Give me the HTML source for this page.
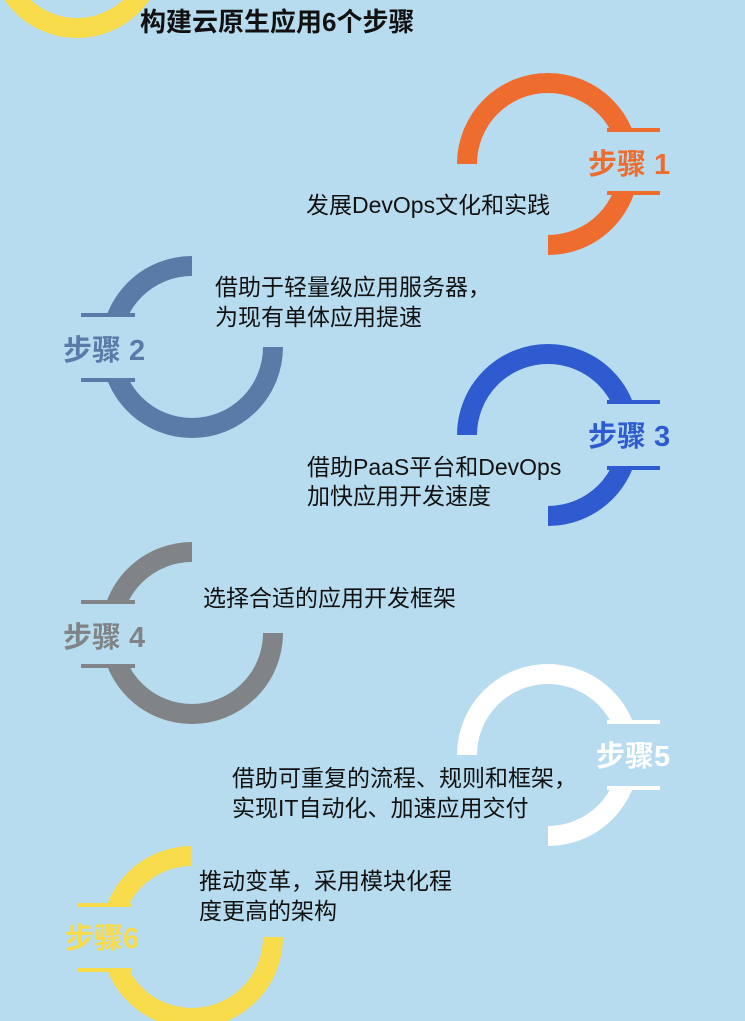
<!DOCTYPE html>
<html><head><meta charset="utf-8"><style>
html,body{margin:0;padding:0;background:#b8dcef;}
svg{display:block;font-family:"Liberation Sans","Noto Sans CJK SC",sans-serif;}
</style></head><body>
<svg width="745" height="1021" viewBox="0 0 745 1021" xmlns="http://www.w3.org/2000/svg">
<rect width="745" height="1021" fill="#b8dcef"/>
<defs>
<mask id="mR1" maskUnits="userSpaceOnUse" x="0" y="0" width="745" height="1021"><rect width="745" height="1021" fill="#fff"/><rect x="430" y="164" width="118" height="120" fill="#000"/><rect x="548" y="132" width="120" height="60" fill="#000"/></mask>
<mask id="mR3" maskUnits="userSpaceOnUse" x="0" y="0" width="745" height="1021"><rect width="745" height="1021" fill="#fff"/><rect x="430" y="435" width="118" height="120" fill="#000"/><rect x="548" y="403" width="120" height="63" fill="#000"/></mask>
<mask id="mR5" maskUnits="userSpaceOnUse" x="0" y="0" width="745" height="1021"><rect width="745" height="1021" fill="#fff"/><rect x="430" y="755" width="118" height="120" fill="#000"/><rect x="548" y="724" width="120" height="62" fill="#000"/></mask>
<mask id="mL2" maskUnits="userSpaceOnUse" x="0" y="0" width="745" height="1021"><rect width="745" height="1021" fill="#fff"/><rect x="192" y="230" width="120" height="117" fill="#000"/><rect x="70" y="317" width="122" height="61" fill="#000"/></mask>
<mask id="mL4" maskUnits="userSpaceOnUse" x="0" y="0" width="745" height="1021"><rect width="745" height="1021" fill="#fff"/><rect x="192" y="520" width="120" height="113" fill="#000"/><rect x="70" y="603" width="122" height="61" fill="#000"/></mask>
<mask id="mL6" maskUnits="userSpaceOnUse" x="0" y="0" width="745" height="1021"><rect width="745" height="1021" fill="#fff"/><rect x="192" y="830" width="120" height="107" fill="#000"/><rect x="70" y="907" width="122" height="61" fill="#000"/></mask>
</defs>

<circle cx="77" cy="-50" r="78" fill="none" stroke="#f8dc4c" stroke-width="20"/>
<text x="140" y="31" font-size="26" font-weight="bold" fill="#111">构建云原生应用6个步骤</text>

<circle cx="548" cy="164" r="81" fill="none" stroke="#ee6c2d" stroke-width="20" mask="url(#mR1)"/>
<rect x="607" y="128" width="53" height="4" fill="#ee6c2d"/>
<rect x="607" y="191" width="53" height="4" fill="#ee6c2d"/>
<text x="588" y="174" font-size="29" font-weight="bold" fill="#ee6c2d">步骤 1</text>
<text x="306" y="213" font-size="23" fill="#111">发展DevOps文化和实践</text>

<circle cx="192" cy="347" r="81" fill="none" stroke="#5a7aa8" stroke-width="20" mask="url(#mL2)"/>
<rect x="81" y="313" width="54" height="4" fill="#5a7aa8"/>
<rect x="81" y="378" width="54" height="4" fill="#5a7aa8"/>
<text x="63" y="360" font-size="29" font-weight="bold" fill="#5a7aa8">步骤 2</text>
<text x="215" y="295" font-size="23" fill="#111">借助于轻量级应用服务器，</text>
<text x="215" y="325" font-size="23" fill="#111">为现有单体应用提速</text>

<circle cx="548" cy="435" r="81" fill="none" stroke="#2f5bd0" stroke-width="20" mask="url(#mR3)"/>
<rect x="607" y="400" width="53" height="4" fill="#2f5bd0"/>
<rect x="607" y="466" width="53" height="4" fill="#2f5bd0"/>
<text x="588" y="446" font-size="29" font-weight="bold" fill="#2f5bd0">步骤 3</text>
<text x="307" y="475" font-size="23" fill="#111">借助PaaS平台和DevOps</text>
<text x="307" y="504" font-size="23" fill="#111">加快应用开发速度</text>

<circle cx="192" cy="633" r="81" fill="none" stroke="#818487" stroke-width="20" mask="url(#mL4)"/>
<rect x="81" y="600" width="54" height="4" fill="#818487"/>
<rect x="81" y="664" width="54" height="4" fill="#818487"/>
<text x="63" y="647" font-size="29" font-weight="bold" fill="#818487">步骤 4</text>
<text x="203" y="606" font-size="23" fill="#111">选择合适的应用开发框架</text>

<circle cx="548" cy="755" r="81" fill="none" stroke="#ffffff" stroke-width="20" mask="url(#mR5)"/>
<rect x="607" y="720" width="53" height="4" fill="#ffffff"/>
<rect x="607" y="786" width="53" height="4" fill="#ffffff"/>
<text x="596" y="766" font-size="29" font-weight="bold" fill="#ffffff">步骤5</text>
<text x="232" y="786" font-size="23" fill="#111">借助可重复的流程、规则和框架，</text>
<text x="232" y="816" font-size="23" fill="#111">实现IT自动化、加速应用交付</text>

<circle cx="192" cy="937" r="81" fill="none" stroke="#f8dc4c" stroke-width="20" mask="url(#mL6)"/>
<rect x="78" y="903" width="54" height="4" fill="#f8dc4c"/>
<rect x="78" y="968" width="54" height="4" fill="#f8dc4c"/>
<text x="65" y="948" font-size="29" font-weight="bold" fill="#f8dc4c">步骤6</text>
<text x="199" y="889" font-size="23" fill="#111">推动变革，采用模块化程</text>
<text x="199" y="919" font-size="23" fill="#111">度更高的架构</text>
</svg>
</body></html>
